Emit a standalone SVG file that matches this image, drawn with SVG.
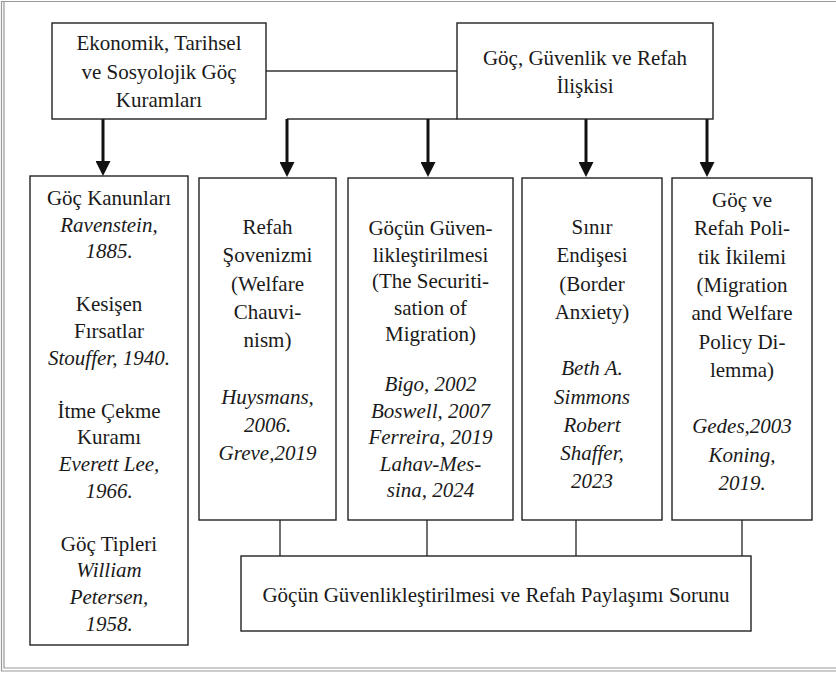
<svg xmlns="http://www.w3.org/2000/svg" width="836" height="675" viewBox="0 0 836 675">
<defs>
<marker id="ah" markerUnits="userSpaceOnUse" markerWidth="15" markerHeight="15" refX="0" refY="7.5" orient="auto">
<path d="M0,0 L15,7.5 L0,15 z" fill="#111"/>
</marker>
<style>
text{font-family:"Liberation Serif","Times New Roman",serif;font-size:21px;fill:#1a1a1a;text-anchor:middle}
.i{font-style:italic}
.box{fill:#fff;stroke:#222;stroke-width:1.4}
.ln{stroke:#333;stroke-width:1.4;fill:none}
.ar{stroke:#111;stroke-width:3;fill:none;marker-end:url(#ah)}
.fr{stroke:#999;stroke-width:1.2;fill:none}
</style>
</defs>
<rect width="836" height="675" fill="#fff"/>
<g id="frame">
<path class="fr" d="M840,1.5 H1.5 V671 H840"/>
<path class="fr" d="M4,1.5 V668 H840" stroke="#bbb"/>
</g>
<g id="connectors">
<line class="ln" x1="266" y1="71" x2="457" y2="71"/>
<line class="ln" x1="287" y1="119" x2="457" y2="119"/>
<line class="ar" x1="103" y1="119" x2="103" y2="161"/>
<line class="ar" x1="287" y1="119" x2="287" y2="162"/>
<line class="ar" x1="428" y1="119" x2="428" y2="162"/>
<line class="ar" x1="586" y1="119" x2="586" y2="162"/>
<line class="ar" x1="707" y1="119" x2="707" y2="162"/>
<line class="ln" x1="280" y1="520" x2="280" y2="556"/>
<line class="ln" x1="427" y1="520" x2="427" y2="556"/>
<line class="ln" x1="576" y1="520" x2="576" y2="556"/>
<line class="ln" x1="742" y1="520" x2="742" y2="556"/>
</g>
<g id="n-kuramlar">
<rect class="box" x="52" y="23" width="214" height="96"/>
<text x="159" y="50">Ekonomik, Tarihsel</text>
<text x="159" y="78.5">ve Sosyolojik Göç</text>
<text x="159" y="107">Kuramları</text>
</g>
<g id="n-iliski">
<rect class="box" x="457" y="23" width="256" height="96"/>
<text x="585" y="65">Göç, Güvenlik ve Refah</text>
<text x="585" y="93">İlişkisi</text>
</g>
<g id="n-kanunlar">
<rect class="box" x="30" y="176" width="158" height="469"/>
<text x="109" y="205">Göç Kanunları</text>
<text x="109" y="231.6" class="i">Ravenstein,</text>
<text x="109" y="258.2" class="i">1885.</text>
<text x="109" y="311.4">Kesişen</text>
<text x="109" y="338">Fırsatlar</text>
<text x="109" y="364.6" class="i">Stouffer, 1940.</text>
<text x="109" y="417.8">İtme Çekme</text>
<text x="109" y="444.4">Kuramı</text>
<text x="109" y="471" class="i">Everett Lee,</text>
<text x="109" y="497.6" class="i">1966.</text>
<text x="109" y="550.8">Göç Tipleri</text>
<text x="109" y="577.4" class="i">William</text>
<text x="109" y="604" class="i">Petersen,</text>
<text x="109" y="630.6" class="i">1958.</text>
</g>
<g id="n-sovenizm">
<rect class="box" x="199" y="178" width="137" height="342"/>
<text x="267.5" y="234">Refah</text>
<text x="267.5" y="262.3">Şovenizmi</text>
<text x="267.5" y="290.5">(Welfare</text>
<text x="267.5" y="318.8">Chauvi-</text>
<text x="267.5" y="347">nism)</text>
<text x="267.5" y="403.5" class="i">Huysmans,</text>
<text x="267.5" y="431.8" class="i">2006.</text>
<text x="267.5" y="460" class="i">Greve,2019</text>
</g>
<g id="n-guvenlik">
<rect class="box" x="348" y="178" width="165" height="342"/>
<text x="430.5" y="235">Göçün Güven-</text>
<text x="430.5" y="261.5">likleştirilmesi</text>
<text x="430.5" y="288">(The Securiti-</text>
<text x="430.5" y="314.5">sation of</text>
<text x="430.5" y="341">Migration)</text>
<text x="430.5" y="391" class="i">Bigo, 2002</text>
<text x="430.5" y="417.5" class="i">Boswell, 2007</text>
<text x="430.5" y="444" class="i">Ferreira, 2019</text>
<text x="430.5" y="470.5" class="i">Lahav-Mes-</text>
<text x="430.5" y="497" class="i">sina, 2024</text>
</g>
<g id="n-sinir">
<rect class="box" x="522" y="178" width="140" height="342"/>
<text x="592" y="234">Sınır</text>
<text x="592" y="262.3">Endişesi</text>
<text x="592" y="290.5">(Border</text>
<text x="592" y="318.8">Anxiety)</text>
<text x="592" y="375.3" class="i">Beth A.</text>
<text x="592" y="403.5" class="i">Simmons</text>
<text x="592" y="431.8" class="i">Robert</text>
<text x="592" y="460" class="i">Shaffer,</text>
<text x="592" y="488.3" class="i">2023</text>
</g>
<g id="n-ikilem">
<rect class="box" x="672" y="178" width="140" height="342"/>
<text x="742" y="207">Göç ve</text>
<text x="742" y="235.3">Refah Poli-</text>
<text x="742" y="263.6">tik İkilemi</text>
<text x="742" y="291.9">(Migration</text>
<text x="742" y="320.2">and Welfare</text>
<text x="742" y="348.5">Policy Di-</text>
<text x="742" y="376.8">lemma)</text>
<text x="742" y="433.4" class="i">Gedes,2003</text>
<text x="742" y="461.7" class="i">Koning,</text>
<text x="742" y="490" class="i">2019.</text>
</g>
<g id="n-sorun">
<rect class="box" x="241" y="556" width="510" height="75"/>
<text x="496" y="601.5">Göçün Güvenlikleştirilmesi ve Refah Paylaşımı Sorunu</text>
</g>
</svg>
